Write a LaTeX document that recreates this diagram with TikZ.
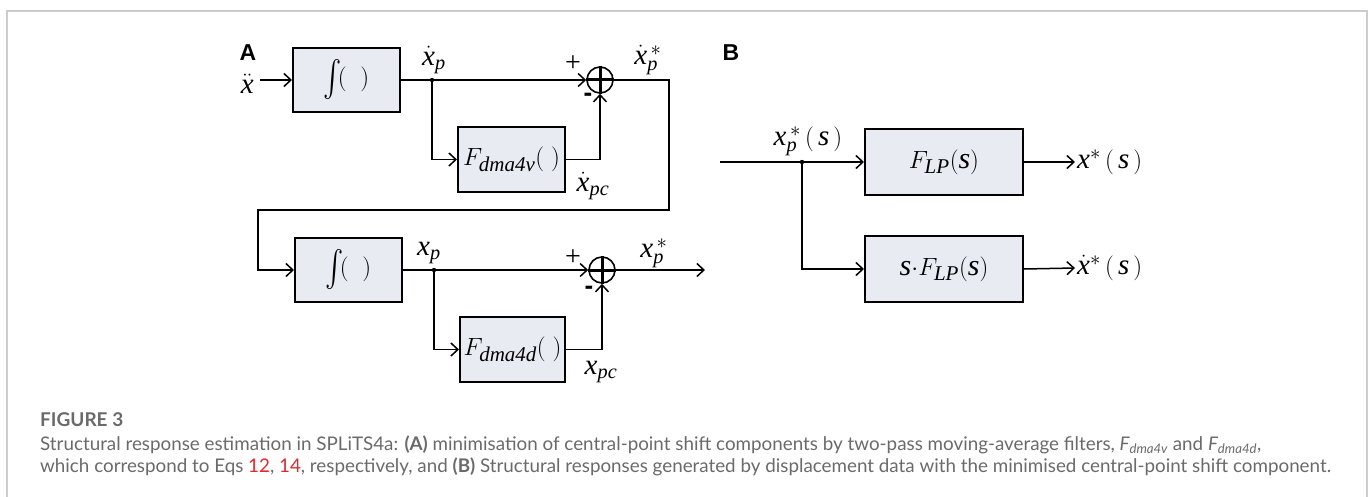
\documentclass[tikz,border=0pt]{standalone}
\usepackage{exscale}
\usepackage{graphicx}
\usepackage{fontspec}
\setmainfont{Liberation Serif}
\setsansfont{Liberation Sans}
\newfontfamily\capfont{Lato}
\usetikzlibrary{arrows.meta}
\definecolor{boxfill}{HTML}{E8ECF2}
\definecolor{capgray}{HTML}{6A6A6A}
\definecolor{framegray}{HTML}{CCCCCC}
\definecolor{eqred}{HTML}{E3262B}
\newcommand{\vr}[1]{\mathit{#1}}
\newcommand{\intbox}{\raisebox{-0.12em}{\scalebox{1.1}[1.45]{$\int$}}$\!(\;\;)$}

\begin{document}
\begin{tikzpicture}[x=1pt,y=-1pt,>={Straight Barb[length=7pt,width=13pt]},
  blk/.style={draw,line width=2pt,fill=boxfill,inner sep=0pt,font=\fontsize{30}{30}\selectfont},
  sumc/.style={draw,circle,line width=1.6pt,minimum size=26pt,inner sep=0pt},
  lbl/.style={font=\fontsize{29}{29}\selectfont,inner sep=0pt},
  plus/.style={font=\fontsize{28}{28}\selectfont,inner sep=0pt},
  minus/.style={font=\sffamily\bfseries\fontsize{26}{26}\selectfont,inner sep=0pt},
  conn/.style={line width=1.5pt},
  panel/.style={font=\sffamily\bfseries\fontsize{23}{23}\selectfont,inner sep=0pt},
  captxt/.style={font=\capfont\fontsize{18.8}{18.8}\selectfont,text=capgray,anchor=base west,inner sep=0pt}]
  \useasboundingbox (0,0) rectangle (1370,497);
  \draw[framegray,line width=1.2pt] (7,520) -- (7,11) -- (1367,11) -- (1367,520);

  % panel A, first pass
  \node[panel] (labA) at (248,53) {A};
  \coordinate (in1) at (260,80);
  \node[lbl,anchor=east] (xdd) at (254,84) {$\ddot{\vr{x}}$};
  \node[blk,minimum width=107pt,minimum height=64pt,font=\fontsize{32}{32}\selectfont] (int1) at (346.5,80) {\intbox};
  \coordinate (br1) at (432,80);
  \node[blk,minimum width=107pt,minimum height=65pt] (fv) at (511.5,159.5) {$F_{\vr{dma4v}}(\;)$};
  \node[sumc] (sum1) at (600,80) {};
  \draw[line width=3pt] (sum1.north) -- (sum1.south) (sum1.west) -- (sum1.east);
  \draw[conn,->] (in1) -- (int1.west);
  \draw[conn,->] (int1.east) -- (sum1.west);
  \fill (br1) circle (2.2pt);
  \draw[conn,->] (br1) |- (fv.west);
  \draw[conn,->] (fv.east) -| (sum1.south);
  \node[lbl] (xp1) at (434,60) {$\dot{\vr{x}}_{\vr{p}}$};
  \node[lbl] (xps1) at (648,60) {$\dot{\vr{x}}_{\vr{p}}^{\,*}$};
  \node[lbl] (xpc1) at (593,186) {$\dot{\vr{x}}_{\vr{pc}}$};
  \node[plus] (pl1) at (573,64) {+};
  \node[minus] (mi1) at (588,97) {-};

  % panel A, second pass
  \node[blk,minimum width=107pt,minimum height=64pt,font=\fontsize{32}{32}\selectfont] (int2) at (348.5,270) {\intbox};
  \coordinate (br2) at (434,270);
  \node[blk,minimum width=105pt,minimum height=65pt] (fd) at (512.5,349.5) {$F_{\vr{dma4d}}(\;)$};
  \node[sumc] (sum2) at (602,270) {};
  \draw[line width=3pt] (sum2.north) -- (sum2.south) (sum2.west) -- (sum2.east);
  \coordinate (out2) at (705,270);
  \draw[conn,->] (int2.east) -- (sum2.west);
  \fill (br2) circle (2.2pt);
  \draw[conn,->] (br2) |- (fd.west);
  \draw[conn,->] (fd.east) -| (sum2.south);
  \draw[conn,->] (sum2.east) -- (out2);
  \node[lbl] (xp2) at (429,253) {$\vr{x}_{\vr{p}}$};
  \node[lbl] (xps2) at (654,253) {$\vr{x}_{\vr{p}}^{\,*}$};
  \node[lbl] (xpc2) at (601,372) {$\vr{x}_{\vr{pc}}$};
  \node[plus] (pl2) at (573,258) {+};
  \node[minus] (mi2) at (589,290) {-};

  % link between the passes
  \coordinate (k1) at (669,210);
  \coordinate (k2) at (258,210);
  \draw[conn,->] (sum1.east) -| (k1) -- (k2) |- (int2.west);

  % panel B
  \node[panel] (labB) at (731,53) {B};
  \coordinate (inB) at (720,162);
  \coordinate (br3) at (802,162);
  \node[blk,minimum width=158pt,minimum height=66pt] (lp) at (944,162) {$F_{\vr{LP}}(\vr{s})$};
  \node[blk,minimum width=158pt,minimum height=66pt] (slp) at (944,269) {$\vr{s}{\cdot}F_{\vr{LP}}(\vr{s})$};
  \coordinate (o1) at (1075,162);
  \coordinate (o2) at (1075,268);
  \draw[conn,->] (inB) -- (lp.west);
  \fill (br3) circle (2.2pt);
  \draw[conn,->] (br3) |- (slp.west);
  \draw[conn,->] (lp.east) -- (o1);
  \draw[conn,->] (slp.east) -- (o2);
  \node[lbl] (xpsB) at (808,141) {$\vr{x}_{\vr{p}}^{\,*}\,(\,\vr{s}\,)$};
  \node[lbl,anchor=west] (xo1) at ([xshift=2pt]o1) {$\vr{x}^{*}\,(\,\vr{s}\,)$};
  \node[lbl,anchor=west] (xo2) at ([xshift=2pt]o2) {$\dot{\vr{x}}^{*}\,(\,\vr{s}\,)$};

  % caption
  \node[captxt,font=\capfont\bfseries\fontsize{19}{19}\selectfont] (fig) at (40,426) {FIGURE 3};
  \node[captxt] (cap1) at (40,450) {Structural response estimation in SPLiTS4a: \textbf{(A)} minimisation of central-point shift components by two-pass moving-average filters, \textit{F\textsubscript{dma4v}} and \textit{F\textsubscript{dma4d}},};
  \node[captxt] (cap2) at (40,472) {which correspond to Eqs \textcolor{eqred}{12}, \textcolor{eqred}{14}, respectively, and \textbf{(B)} Structural responses generated by displacement data with the minimised central-point shift component.};
\end{tikzpicture}
\end{document}
